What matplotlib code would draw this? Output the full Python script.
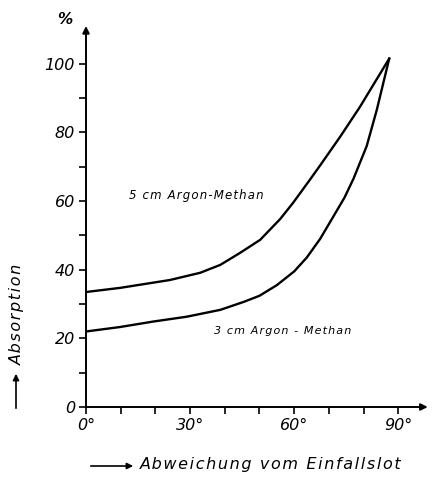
import matplotlib
matplotlib.use('Agg')
import matplotlib.pyplot as plt
from matplotlib.patches import FancyArrowPatch

# Values (angle in degrees, absorption in %)
angle_5cm = [0, 9.8, 24.2, 32.9, 38.7, 44.4, 50.2, 56, 59.7, 64.6, 67.5, 73.3, 79, 87.4]
absorp_5cm = [33.5, 34.7, 37, 39.1, 41.4, 44.9, 48.7, 54.8, 59.5, 66.3, 70.4, 78.8, 87.5, 101.5]

angle_3cm = [0, 9.8, 19.4, 29, 38.7, 45.4, 50, 55, 60, 63.6, 67.5, 71.3, 74.5, 77.1,
             80.9, 83.8, 87.4]
absorp_3cm = [22, 23.3, 24.9, 26.3, 28.3, 30.6, 32.4, 35.5, 39.5, 43.5, 49, 55.5, 61, 66.5,
              76, 86.5, 101.5]

x_major = [0, 30, 60, 90]
x_labels = ['0°', '30°', '60°', '90°']
y_major = [0, 20, 40, 60, 80, 100]


def spaced(s):
    # wide letter spacing like the original lettering
    return '\u200a'.join(s)


fig = plt.figure(figsize=(4.32, 4.79), dpi=100)
ax = fig.add_axes([86 / 432, 72 / 479, 340 / 432, 381 / 479])
ax.set_xlim(0, 98)
ax.set_ylim(0, 111)

for s in ax.spines.values():
    s.set_visible(False)

# axis lines with arrow heads
arrow = dict(arrowstyle='-|>', color='black', lw=1.4, mutation_scale=10,
             shrinkA=0, shrinkB=0)
ax.annotate('', xy=(98.5, 0), xytext=(0, 0), arrowprops=arrow, annotation_clip=False)
ax.annotate('', xy=(0, 111), xytext=(0, 0), arrowprops=arrow, annotation_clip=False)

ax.plot(angle_5cm, absorp_5cm, color='black', lw=1.7, solid_joinstyle='round')
ax.plot(angle_3cm, absorp_3cm, color='black', lw=1.7, solid_joinstyle='round')

font = dict(family='DejaVu Sans', style='italic')

ax.set_xticks(x_major)
ax.set_xticklabels(x_labels, fontsize=11.5, **font)
ax.set_xticks([10, 20, 40, 50, 70, 80], minor=True)
ax.set_yticks(y_major)
ax.set_yticklabels([str(v) for v in y_major], fontsize=11.5, **font)
ax.set_yticks([10, 30, 50, 70, 90], minor=True)
ax.tick_params(axis='both', which='both', direction='out', length=5, width=1.2)
ax.tick_params(axis='x', pad=3)
ax.tick_params(axis='y', pad=3)

ax.text(12.5, 61.5, spaced('5 cm Argon-Methan'), fontsize=8.5, va='center', **font)
ax.text(37, 22.2, spaced('3 cm Argon - Methan'), fontsize=8, va='center', **font)

# percent sign at top of the y axis
fig.text(65 / 432, 1 - 20 / 479, '%', fontsize=11, fontweight='bold', ha='center',
         va='center', **font)

# axis labels with leading arrows
fig.text(17 / 432, 1 - 314 / 479, spaced('Absorption'), rotation=90, fontsize=11.5,
         ha='center', va='center', **font)
fig.add_artist(FancyArrowPatch(
    (16 / 432, 1 - 411 / 479), (16 / 432, 1 - 371 / 479),
    transform=fig.transFigure, arrowstyle='-|>', mutation_scale=9, lw=1.2, color='black'))

fig.text(140 / 432, 1 - 465 / 479, spaced('Abweichung vom Einfallslot'), fontsize=11.5,
         ha='left', va='center', **font)
fig.add_artist(FancyArrowPatch(
    (88 / 432, 1 - 466 / 479), (136 / 432, 1 - 466 / 479),
    transform=fig.transFigure, arrowstyle='-|>', mutation_scale=9, lw=1.2, color='black'))

fig.savefig('out.png', dpi=100)
